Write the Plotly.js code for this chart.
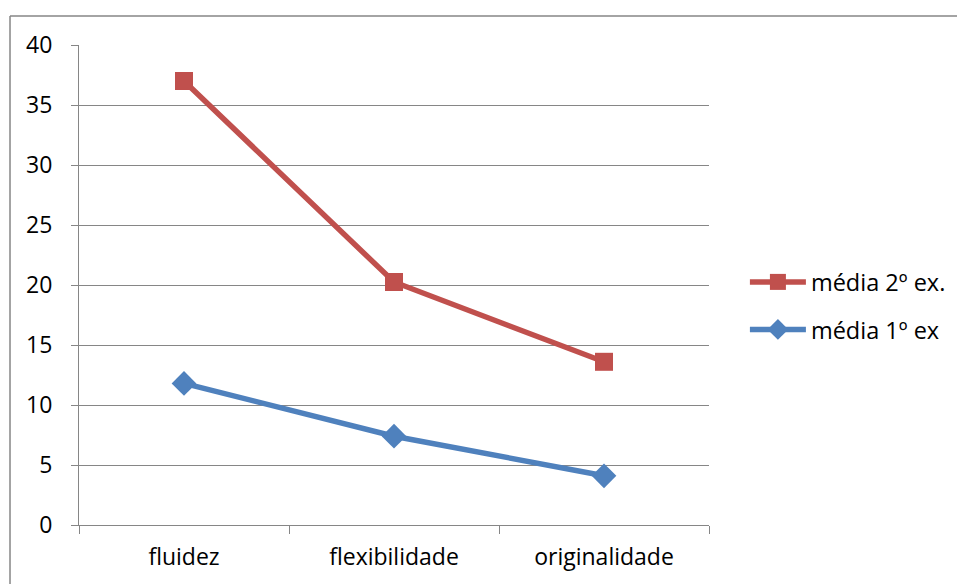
<!DOCTYPE html>
<html>
<head>
<meta charset="utf-8">
<script src="https://cdn.plot.ly/plotly-3.0.1.min.js"></script>
<style>html,body{margin:0;padding:0;background:#fff;}#chart{width:957px;height:584px;}</style>
</head>
<body>
<div id="chart"></div>
<script>
const categories = ["fluidez", "flexibilidade", "originalidade"];
const media1 = [11.8, 7.4, 4.1];
const media2 = [37.0, 20.25, 13.6];
const yTicks = [0, 5, 10, 15, 20, 25, 30, 35, 40];

const fontFam = '"Open Sans", "Liberation Sans", sans-serif';

const traces = [
  {
    x: categories, y: media1, name: "média 1º ex", type: "scatter", mode: "lines+markers",
    legendgroup: "g1", legendrank: 2,
    line: {color: "#4F81BD", width: 5.5},
    marker: {symbol: "diamond", size: 19, color: "#4F81BD"}
  },
  {
    x: categories, y: media2, name: "média 2º ex.", type: "scatter", mode: "lines+markers",
    legendgroup: "g2", legendrank: 1,
    line: {color: "#C0504D", width: 5.5},
    marker: {symbol: "square", size: 18, color: "#C0504D"}
  }
];

const layout = {
  width: 957, height: 584,
  margin: {l: 79, r: 248, t: 45, b: 59, autoexpand: false},
  paper_bgcolor: "#ffffff", plot_bgcolor: "#ffffff",
  font: {family: fontFam, size: 23, color: "#000000"},
  showlegend: true,
  legend: {
    x: 1.057, y: 0.456, xanchor: "left", yanchor: "middle",
    traceorder: "grouped", font: {family: fontFam, size: 23.5, color: "#000"},
    itemwidth: 56, tracegroupgap: 14, bgcolor: "rgba(0,0,0,0)"
  },
  xaxis: {
    type: "category", range: [-0.5, 2.5], tickson: "boundaries",
    showgrid: false, showline: true, linecolor: "#868686", linewidth: 1,
    ticks: "outside", ticklen: 8, tickcolor: "#868686", ticklabelstandoff: 11,
    zeroline: false, fixedrange: true, automargin: false
  },
  yaxis: {
    range: [0, 40], tickvals: yTicks, ticktext: yTicks.map(String),
    showgrid: true, gridcolor: "#868686", gridwidth: 1,
    showline: true, linecolor: "#868686", linewidth: 1,
    ticks: "outside", ticklen: 7, tickcolor: "#868686", ticklabelstandoff: 14,
    zeroline: false, fixedrange: true, automargin: false
  },
  shapes: [
    {type: "line", xref: "paper", yref: "paper", x0: -0.1095, x1: -0.1095, y0: -0.2, y1: 1.0604,
     line: {color: "#868686", width: 1.5}},
    {type: "line", xref: "paper", yref: "paper", x0: -0.1095, x1: 1.5, y0: 1.0604, y1: 1.0604,
     line: {color: "#868686", width: 1.5}}
  ]
};

Plotly.newPlot("chart", traces, layout, {displayModeBar: false, staticPlot: true});
</script>
</body>
</html>
